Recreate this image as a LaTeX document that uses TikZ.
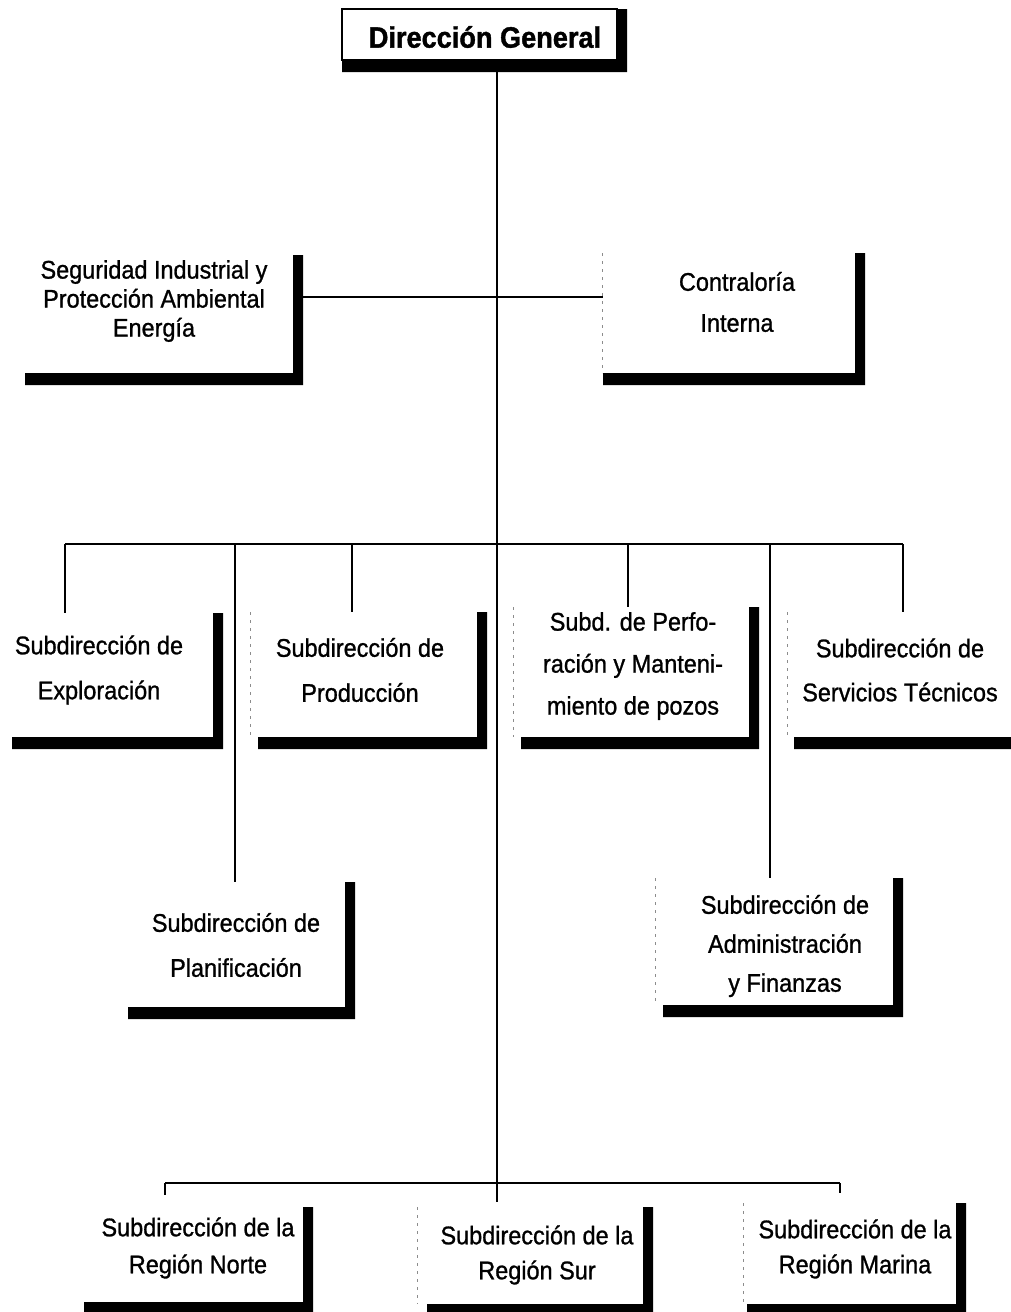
\documentclass[tikz,border=0pt]{standalone}
\usepackage{fontspec}
\setmainfont{Liberation Sans}[FakeStretch=0.92, UprightFeatures={FakeBold=1.0}, BoldFeatures={FakeBold=1.3}]
\usetikzlibrary{fit}

% frame of a unit: #1 name, #2 left, #3 top, #4 right, #5 bottom
\newcommand\unitframe[5]{%
  \node[frame, fit={(#2,#3) (#4,#5)}] (#1) {};
}
% heavy drop shadow on the right and bottom sides of a frame
\newcommand\unitshadow[1]{%
  \fill[barfill] (#1.north east) -- ++(10,0) |- ([yshift=-12pt]#1.south west)
    -- (#1.south west) -- (#1.south east) -- cycle;
}
% faint left edge of a frame
\newcommand\unitedge[2]{%
  \draw[faint] ([xshift=#2]#1.north west) -- ([xshift=#2]#1.south west);
}

\begin{document}
\begin{tikzpicture}[x=1pt,y=-1pt,
  frame/.style={rectangle, inner sep=0pt, outer sep=0pt, draw=none},
  barfill/.style={fill=black},
  link/.style={line width=2.8pt, draw=black},
  thinlink/.style={line width=1.8pt, draw=black},
  faint/.style={draw=black!45, line width=0.8pt, dash pattern=on 3pt off 5pt},
  boxtext/.style={align=center, inner sep=0pt,
    font=\fontsize{25.5pt}{#1}\selectfont},
  titletext/.style={inner sep=0pt, font=\bfseries\fontsize{29.5pt}{32pt}\selectfont}]

\useasboundingbox (0,0) rectangle (1010,1312);

% ---- frames ----
\unitframe{dg}{342}{9}{617}{60}
\unitframe{seg}{25}{255}{293}{373}
\unitframe{contra}{603}{253}{855}{373}
\unitframe{expl}{12}{613}{213}{737}
\unitframe{prod}{258}{612}{477}{737}
\unitframe{perf}{521}{607}{749}{737}
\unitframe{serv}{794}{612}{1014}{737}
\unitframe{plan}{128}{882}{345}{1007}
\unitframe{admin}{663}{878}{893}{1005}
\unitframe{norte}{84}{1207}{303}{1302}
\unitframe{sur}{427}{1207}{643}{1304}
\unitframe{marina}{747}{1203}{956}{1304}

% ---- texts ----
\node[titletext] (dg-t) at (485,37) {Dirección General};
\node[boxtext=29pt] (seg-t) at (154,301) {Seguridad Industrial y\\Protección Ambiental\\Energía};
\node[boxtext=41pt] (contra-t) at (737,302) {Contraloría\\Interna};
\node[boxtext=45pt] (expl-t) at (99,670) {Subdirección de\\Exploración};
\node[boxtext=45pt] (prod-t) at (360,670) {Subdirección de\\Producción};
\node[boxtext=42pt] (perf-t) at (633,666) {Subd. de Perfo-\\ración y Manteni-\\miento de pozos};
\node[boxtext=44pt] (serv-t) at (900,670) {Subdirección de\\Servicios Técnicos};
\node[boxtext=45pt] (plan-t) at (236,945) {Subdirección de\\Planificación};
\node[boxtext=39pt] (admin-t) at (785,946) {Subdirección de\\Administración\\y Finanzas};
\node[boxtext=37pt] (norte-t) at (198,1248) {Subdirección de la\\Región Norte};
\node[boxtext=35pt] (sur-t) at (537,1255) {Subdirección de la\\Región Sur};
\node[boxtext=35pt] (marina-t) at (855,1249) {Subdirección de la\\Región Marina};

% ---- connector points ----
\coordinate (trunkTop) at (497,60);
\coordinate (trunkEnd) at (497,1202);
\coordinate (hubA) at (497,297);
\coordinate (barL) at (65,544);
\coordinate (barR) at (903,544);
\coordinate (dPlan) at (235,544);
\coordinate (dProd) at (352,544);
\coordinate (dPerf) at (628,544);
\coordinate (dAdm) at (770,544);
\coordinate (lowL) at (165,1183);
\coordinate (lowR) at (840,1183);

% ---- connectors ----
\draw[link] (trunkTop) -- (trunkEnd);
\draw[link] (hubA -| seg.east) -- (hubA -| contra.west);
\draw[link] (barL) -- (barR);
\draw[link] (barL) -- (barL |- expl.north);
\draw[link] (dPlan) -- (dPlan |- plan.north);
\draw[link] (dProd) -- (dProd |- prod.north);
\draw[link] (dPerf) -- (dPerf |- perf.north);
\draw[link] (dAdm) -- (dAdm |- admin.north);
\draw[link] (barR) -- (barR |- serv.north);
\draw[thinlink] (lowL) -- (lowR);
\draw[thinlink] (lowL) -- ++(0,12);
\draw[thinlink] (lowR) -- ++(0,10);

% ---- title frame outline ----
\draw[line width=2pt] (dg.north west) rectangle (dg.south east);

% ---- faint left edges ----
\unitedge{contra}{-1pt}
\unitedge{prod}{-8pt}
\unitedge{perf}{-8pt}
\unitedge{serv}{-7pt}
\unitedge{admin}{-8pt}
\unitedge{sur}{-10pt}
\unitedge{marina}{-4pt}

% ---- shadows ----
\unitshadow{dg}
\unitshadow{seg}
\unitshadow{contra}
\unitshadow{expl}
\unitshadow{prod}
\unitshadow{perf}
\unitshadow{serv}
\unitshadow{plan}
\unitshadow{admin}
\unitshadow{norte}
\unitshadow{sur}
\unitshadow{marina}

\end{tikzpicture}
\end{document}
